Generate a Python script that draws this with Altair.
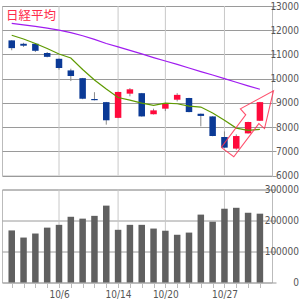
import json
import altair as alt
import pandas as pd

# ---------------- data ----------------
dates = ["9/30", "10/1", "10/2", "10/3", "10/6", "10/7", "10/8", "10/9", "10/10",
         "10/14", "10/15", "10/16", "10/17", "10/20", "10/21", "10/22", "10/23",
         "10/24", "10/27", "10/28", "10/29", "10/30"]
opens = [11580, 11440, 11440, 11060, 10820, 10340, 10020, 9160, 9030,
         8380, 9380, 9400, 8530, 8760, 9130, 9200, 8550,
         8440, 7590, 7110, 7740, 8260]
highs = [11590, 11480, 11445, 11100, 10830, 10410, 10030, 9440, 9040,
         9460, 9610, 9410, 8760, 9000, 9400, 9210, 8560,
         8450, 7820, 7700, 8220, 9040]
lows = [11170, 11310, 11100, 10880, 10370, 9900, 9150, 9100, 8100,
        8370, 9270, 8430, 8520, 8660, 9060, 8610, 8030,
        7620, 7140, 7060, 7730, 8250]
closes = [11260, 11360, 11150, 10900, 10440, 10110, 9170, 9110, 8280,
          9450, 9560, 8440, 8690, 8990, 9330, 8620, 8460,
          7630, 7150, 7630, 8210, 9030]
ma5 = [11790, 11636, 11450, 11244, 11017, 10851, 10380, 9942, 9570,
       9219, 9116, 8992, 8897, 8992, 8963, 8868, 8826,
       8578, 8277, 7959, 7864, 7905]
ma25 = [12280, 12220, 12160, 12090, 12000, 11900, 11770, 11620, 11450,
        11310, 11170, 11020, 10870, 10730, 10590, 10440, 10290,
        10150, 10000, 9850, 9700, 9560]
volumes = [168000, 145000, 158000, 177000, 186000, 212000, 206000, 215000, 248000,
           170000, 186000, 186000, 174000, 167000, 154000, 161000, 219000,
           196000, 238000, 241000, 225000, 222000]
label_dates = ["10/6", "10/14", "10/20", "10/27"]
price_ticks = [6000, 7000, 8000, 9000, 10000, 11000, 12000, 13000]
volume_ticks = [0, 100000, 200000, 300000]
title_text = "日経平均"
# red arrow annotation (day index, price)
arrow_x = [17.73, 19.80, 19.35, 22.15, 21.39, 20.91, 18.79, 17.73]
arrow_y = [7161, 8508, 8752, 9500, 7938, 8145, 6773, 7161]

# ---------------- styles ----------------
RED = "#ff0a3c"
BLUE = "#0b3a96"
FONT = "Liberation Sans Narrow, DejaVu Sans Condensed, Roboto, sans-serif"
LABEL_COLOR = "#555555"
HGRID = "#9a9a9a"
VGRID = "#c8c8c8"

idx = list(range(len(dates)))
label_idx = [dates.index(d) for d in label_dates]

df = pd.DataFrame({
    "i": idx, "date": dates, "open": opens, "high": highs, "low": lows,
    "close": closes, "ma5": ma5, "ma25": ma25, "vol": volumes,
})
vg = pd.DataFrame({"i": label_idx})
arrow = pd.DataFrame({"ax": arrow_x, "ay": arrow_y, "k": list(range(len(arrow_x)))})
tdf = pd.DataFrame({"t": [title_text]})

xscale = alt.Scale(domain=[-0.4, len(dates) - 0.4], nice=False, zero=False)
pscale = alt.Scale(domain=[price_ticks[0], price_ticks[-1]], nice=False, zero=False)
vscale = alt.Scale(domain=[volume_ticks[0], volume_ticks[-1]], nice=False)

def right_axis(values):
    return alt.Axis(orient="right", values=values, format="d", title=None,
                    grid=True, gridColor=HGRID, domain=False, tickColor=HGRID,
                    tickSize=4, labelAlign="right", labelBaseline="middle",
                    labelPadding=22.5, labelFont=FONT, labelFontSize=10,
                    labelColor=LABEL_COLOR, labelFlush=False, labelOverlap=False)

paxis = right_axis(price_ticks)
vaxis = right_axis(volume_ticks)

W = 270

# ---------------- top panel ----------------
vgrid_top = alt.Chart(vg).mark_rule(color=VGRID).encode(
    x=alt.X("i:Q", scale=xscale, axis=None))

wicks = alt.Chart(df).mark_rule(color="#8a8a8a", strokeWidth=1).encode(
    x=alt.X("i:Q", scale=xscale, axis=None),
    y=alt.Y("low:Q", scale=pscale, axis=paxis),
    y2="high:Q")

bodies = alt.Chart(df).mark_bar(size=6.5).encode(
    x=alt.X("i:Q", scale=xscale, axis=None),
    y=alt.Y("open:Q", scale=pscale, axis=paxis),
    y2="close:Q",
    color=alt.condition("datum.close >= datum.open", alt.value(RED), alt.value(BLUE)))

line25 = alt.Chart(df).mark_line(color="#a01cf0", strokeWidth=1.2).encode(
    x=alt.X("i:Q", scale=xscale, axis=None),
    y=alt.Y("ma25:Q", scale=pscale, axis=paxis))

line5 = alt.Chart(df).mark_line(color="#5e9a00", strokeWidth=1.2).encode(
    x=alt.X("i:Q", scale=xscale, axis=None),
    y=alt.Y("ma5:Q", scale=pscale, axis=paxis))

arrow_line = alt.Chart(arrow).mark_line(color="#ff3355", strokeWidth=1.1,
                                        opacity=0.85, clip=False).encode(
    x=alt.X("ax:Q", scale=xscale, axis=None),
    y=alt.Y("ay:Q", scale=pscale, axis=paxis),
    order="k:Q")

title = alt.Chart(tdf).mark_text(align="left", baseline="middle", fontSize=12.5,
                                 color="#ff2a4a", font="Noto Sans CJK JP").encode(
    x=alt.value(4), y=alt.value(10), text="t:N")

top = alt.layer(vgrid_top, wicks, bodies, line25, line5, arrow_line, title).properties(
    width=W, height=169.5)

# ---------------- bottom panel ----------------
xlabel_expr = ("indexof(" + json.dumps(label_idx) + ", datum.value) >= 0 ? "
               + json.dumps(dates) + "[datum.value] : ''")

xaxis = alt.Axis(values=idx, labelExpr=xlabel_expr, title=None, grid=False,
                 domain=False, tickColor="#bbbbbb", tickSize=5, labelPadding=2,
                 labelFont=FONT, labelFontSize=10, labelColor=LABEL_COLOR,
                 labelFlush=False, labelOverlap=False, labelAngle=0)

vgrid_bot = alt.Chart(vg).mark_rule(color=VGRID).encode(
    x=alt.X("i:Q", scale=xscale, axis=xaxis))

vbars = alt.Chart(df).mark_bar(size=6.5, color="#606060").encode(
    x=alt.X("i:Q", scale=xscale, axis=xaxis),
    y=alt.Y("vol:Q", scale=vscale, axis=vaxis))

bottom = alt.layer(vgrid_bot, vbars).properties(width=W, height=93)

chart = alt.VConcatChart(vconcat=[top, bottom], spacing=13.5, bounds="flush").properties(
    padding={"left": 1, "top": 0, "right": 0, "bottom": 0}
).configure_view(stroke="#bbbbbb")

chart.save("out.html", embed_options={"renderer": "svg", "actions": False})
